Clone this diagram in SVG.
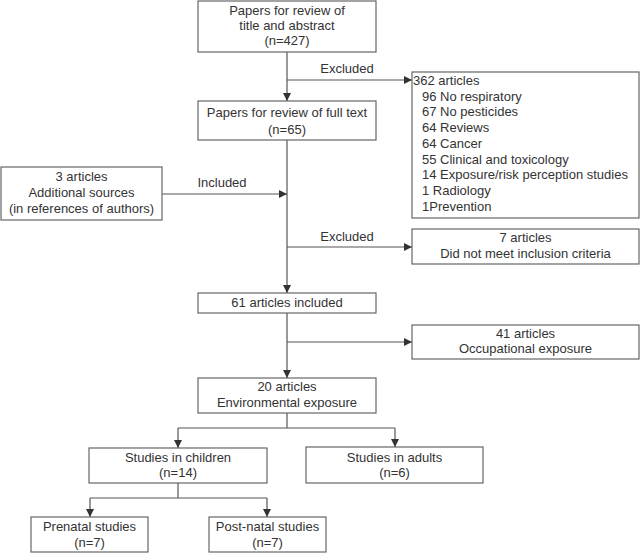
<svg xmlns="http://www.w3.org/2000/svg" width="640" height="553" viewBox="0 0 640 553">
<style>
  rect { fill: #fff; stroke: #666; stroke-width: 1.2; }
  text { font-family: "Liberation Sans", Arial, sans-serif; font-size: 13px; fill: #333; }
  .c { text-anchor: middle; }
  .ln { fill: none; stroke: #555; stroke-width: 1.2; }
</style>
<defs>
  <marker id="ah" markerWidth="8" markerHeight="8" refX="8" refY="4" orient="auto" markerUnits="userSpaceOnUse">
    <path d="M0,0 L8,4 L0,8 z" fill="#333"/>
  </marker>
</defs>
<rect x="0" y="0" width="640" height="553" style="fill:#fff;stroke:none"/>
<g id="connectors">
  <path class="ln" d="M287,52 V101" marker-end="url(#ah)"/>
  <path class="ln" d="M287,80 H412" marker-end="url(#ah)"/>
  <path class="ln" d="M287,140 V293" marker-end="url(#ah)"/>
  <path class="ln" d="M162,194 H287" marker-end="url(#ah)"/>
  <path class="ln" d="M287,247 H412" marker-end="url(#ah)"/>
  <path class="ln" d="M287,313 V378" marker-end="url(#ah)"/>
  <path class="ln" d="M287,342 H412" marker-end="url(#ah)"/>
  <path class="ln" d="M287,413 V428"/>
  <path class="ln" d="M178,428 H395"/>
  <path class="ln" d="M178,428 V448" marker-end="url(#ah)"/>
  <path class="ln" d="M395,428 V447" marker-end="url(#ah)"/>
  <path class="ln" d="M178,483 V498"/>
  <path class="ln" d="M90,498 H267"/>
  <path class="ln" d="M90,498 V517" marker-end="url(#ah)"/>
  <path class="ln" d="M267,498 V517" marker-end="url(#ah)"/>
  <text class="c" x="347" y="73">Excluded</text>
  <text class="c" x="222" y="187">Included</text>
  <text class="c" x="347" y="241">Excluded</text>
</g>
<g id="n1">
  <rect x="198" y="1" width="178" height="51"/>
  <text class="c" x="287" y="15">Papers for review of</text>
  <text class="c" x="287" y="30">title and abstract</text>
  <text class="c" x="287" y="45">(n=427)</text>
</g>
<g id="n2">
  <rect x="198" y="101" width="178" height="39"/>
  <text class="c" x="287" y="117">Papers for review of full text</text>
  <text class="c" x="287" y="134">(n=65)</text>
</g>
<g id="n_excl1">
  <rect x="412" y="72" width="227" height="146"/>
  <text x="413" y="85">362 articles</text>
  <text x="422" y="100.7">96 No respiratory</text>
  <text x="422" y="116.4">67 No pesticides</text>
  <text x="422" y="132.1">64 Reviews</text>
  <text x="422" y="147.8">64 Cancer</text>
  <text x="422" y="163.5">55 Clinical and toxicology</text>
  <text x="422" y="179.2">14 Exposure/risk perception studies</text>
  <text x="422" y="194.9">1 Radiology</text>
  <text x="422" y="210.6">1Prevention</text>
</g>
<g id="n_add">
  <rect x="1" y="167" width="161" height="53"/>
  <text class="c" x="81.5" y="181">3 articles</text>
  <text class="c" x="81.5" y="197">Additional sources</text>
  <text class="c" x="81.5" y="213">(in references of authors)</text>
</g>
<g id="n_excl2">
  <rect x="412" y="229" width="227" height="35"/>
  <text class="c" x="525.5" y="242">7 articles</text>
  <text class="c" x="525.5" y="258">Did not meet inclusion criteria</text>
</g>
<g id="n3">
  <rect x="198" y="293" width="178" height="20"/>
  <text class="c" x="287" y="307">61 articles included</text>
</g>
<g id="n_occ">
  <rect x="412" y="325" width="227" height="34"/>
  <text class="c" x="525.5" y="338">41 articles</text>
  <text class="c" x="525.5" y="353">Occupational exposure</text>
</g>
<g id="n_env">
  <rect x="198" y="378" width="178" height="35"/>
  <text class="c" x="287" y="391">20 articles</text>
  <text class="c" x="287" y="407">Environmental exposure</text>
</g>
<g id="n_children">
  <rect x="89" y="448" width="178" height="35"/>
  <text class="c" x="178" y="462">Studies in children</text>
  <text class="c" x="178" y="477">(n=14)</text>
</g>
<g id="n_adults">
  <rect x="306" y="447" width="177" height="36"/>
  <text class="c" x="394.5" y="462">Studies in adults</text>
  <text class="c" x="394.5" y="477">(n=6)</text>
</g>
<g id="n_prenatal">
  <rect x="31" y="517" width="117" height="35"/>
  <text class="c" x="89.5" y="531">Prenatal studies</text>
  <text class="c" x="89.5" y="547">(n=7)</text>
</g>
<g id="n_postnatal">
  <rect x="209" y="517" width="117" height="35"/>
  <text class="c" x="267.5" y="531">Post-natal studies</text>
  <text class="c" x="267.5" y="547">(n=7)</text>
</g>
</svg>
